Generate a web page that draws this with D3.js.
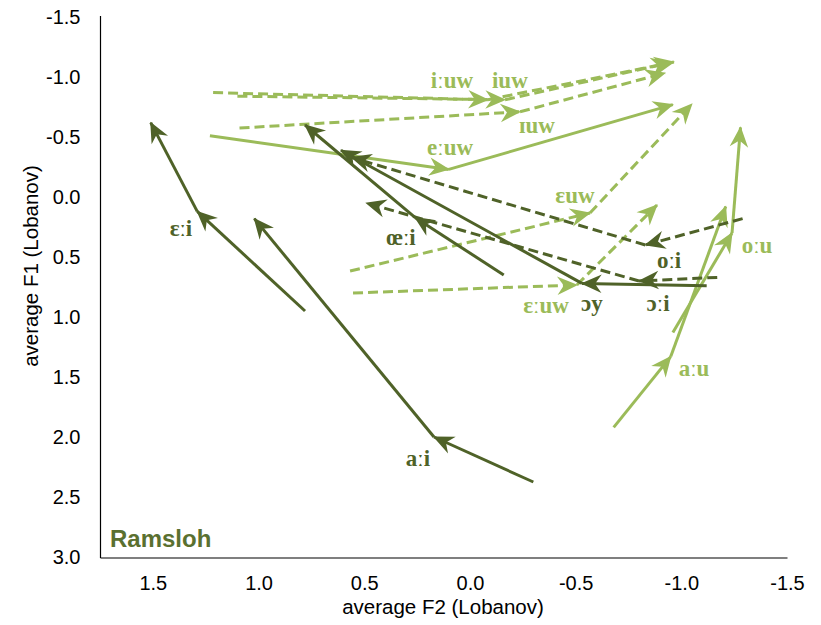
<!DOCTYPE html>
<html>
<head>
<meta charset="utf-8">
<script src="https://cdn.jsdelivr.net/npm/d3@7"></script>
<style>
  body { margin: 0; background: #fff; }
  svg { display: block; }
</style>
</head>
<body>
<div id="chart"></div>
<script>
// trajectories: onset -> midpoint -> offset, as [F2, F1]
const darkSolid = [
  {label: "aːi", pts: [[-0.30, 2.375], [0.17, 2.00], [1.02, 0.18]]},
  {label: "ɛːi", pts: [[0.78, 0.95], [1.29, 0.12], [1.51, -0.62]]},
  {label: "œːi", pts: [[-0.16, 0.65], [0.26, 0.17], [0.78, -0.60]]},
  {label: "ɔy",  pts: [[-1.12, 0.74], [-0.53, 0.72], [0.61, -0.39]]}
];
const darkDashed = [
  {label: "ɔːi", pts: [[-1.17, 0.67], [-0.80, 0.70], [0.49, 0.05]]},
  {label: "oːi", pts: [[-1.29, 0.18], [-0.83, 0.40], [0.56, -0.33]]}
];
const lightSolid = [
  {label: "eːuw", pts: [[1.23, -0.51], [0.10, -0.23], [-0.96, -0.77]]},
  {label: "aːu",  pts: [[-0.68, 1.92], [-0.95, 1.33], [-1.21, 0.08]]},
  {label: "oːu",  pts: [[-0.96, 1.13], [-1.24, 0.30], [-1.28, -0.58]]}
];
const lightDashed = [
  {label: "iːuw", pts: [[1.215, -0.87], [-0.085, -0.81], [-0.965, -1.125]]},
  {label: "iuw",  pts: [[1.10, -0.84], [-0.166, -0.81], [-0.95, -1.12]]},
  {label: "ɪuw",  pts: [[1.09, -0.575], [-0.237, -0.71], [-0.923, -1.033]]},
  {label: "ɛuw",  pts: [[0.567, 0.617], [-0.568, 0.133], [-1.05, -0.775]]},
  {label: "ɛːuw", pts: [[0.553, 0.80], [-0.506, 0.733], [-0.885, 0.067]]}
];
// label anchors [F2, F1]
const darkLabels = [
  ["aːi", 0.246, 2.175], ["ɛːi", 1.367, 0.258], ["œːi", 0.326, 0.333],
  ["ɔy", -0.577, 0.883], ["ɔːi", -0.89, 0.883], ["oːi", -0.942, 0.525]
];
const lightLabels = [
  ["iːuw", 0.085, -0.975], ["iuw", -0.189, -0.975], ["ɪuw", -0.317, -0.6],
  ["eːuw", 0.094, -0.417], ["ɛuw", -0.497, -0.017], ["ɛːuw", -0.36, 0.9],
  ["aːu", -1.06, 1.425], ["oːu", -1.358, 0.4]
];
const xTicks = [1.5, 1.0, 0.5, 0.0, -0.5, -1.0, -1.5];
const yTicks = [-1.5, -1.0, -0.5, 0.0, 0.5, 1.0, 1.5, 2.0, 2.5, 3.0];

const dark = "#4F6228", light = "#9BBB59";
let width = 821, height = 625;

let svg = d3.select("#chart").append("svg")
            .attr("width", width)
            .attr("height", height);

let xscale = d3.scaleLinear().domain([1.75, -1.5]).range([100, 787]);
let yscale = d3.scaleLinear().domain([-1.5, 3.0]).range([17, 557]);

let fmt = d => d3.format(".1f")(d).replace("\u2212", "-");

// stealth style arrowheads
let defs = svg.append("defs");
[["dark", dark], ["light", light]].forEach(([id, c]) => {
  defs.append("marker")
      .attr("id", "arrow-" + id)
      .attr("markerUnits", "userSpaceOnUse")
      .attr("markerWidth", 24).attr("markerHeight", 24)
      .attr("viewBox", "-20 -10 22 20")
      .attr("refX", 0).attr("refY", 0)
      .attr("orient", "auto")
    .append("path")
      .attr("d", "M1,0 L-18,-8.5 L-12,0 L-18,8.5 Z")
      .attr("fill", c);
});

let yaxis = svg.append("g")
               .attr("transform", "translate(100.5,0)")
               .call(d3.axisLeft(yscale).tickValues(yTicks).tickFormat(fmt)
                       .tickSize(0).tickSizeOuter(0).tickPadding(20));
let xaxis = svg.append("g")
               .attr("transform", "translate(0,557.5)")
               .call(d3.axisBottom(xscale).tickValues(xTicks).tickFormat(fmt)
                       .tickSize(0).tickSizeOuter(0).tickPadding(18));
[yaxis, xaxis].forEach(a => {
  a.select(".domain").attr("stroke", "#000").attr("stroke-width", 1.2);
  a.selectAll("text").attr("font-family", "Arial, 'Liberation Sans', sans-serif")
   .attr("font-size", 20).attr("fill", "#000");
});
yaxis.select(".domain").attr("d", "M0,16V558");

svg.append("text")
   .text("average F2 (Lobanov)")
   .attr("x", 443).attr("y", 614)
   .attr("text-anchor", "middle")
   .attr("font-family", "Arial, 'Liberation Sans', sans-serif")
   .attr("font-size", 20.5);

svg.append("text")
   .text("average F1 (Lobanov)")
   .attr("transform", "translate(38,266) rotate(-90)")
   .attr("text-anchor", "middle")
   .attr("font-family", "Arial, 'Liberation Sans', sans-serif")
   .attr("font-size", 20.5);

svg.append("text")
   .text("Ramsloh")
   .attr("x", 110).attr("y", 547)
   .attr("font-family", "Arial, 'Liberation Sans', sans-serif")
   .attr("font-weight", "bold")
   .attr("font-size", 24)
   .attr("fill", "#5A7030");

function drawGroup(series, color, markerId, dashed) {
  series.forEach(s => {
    for (let i = 0; i < s.pts.length - 1; i++) {
      let a = s.pts[i], b = s.pts[i + 1];
      svg.append("line")
         .attr("x1", xscale(a[0])).attr("y1", yscale(a[1]))
         .attr("x2", xscale(b[0])).attr("y2", yscale(b[1]))
         .attr("stroke", color)
         .attr("stroke-width", 3)
         .attr("stroke-dasharray", dashed ? "10,5" : null)
         .attr("marker-end", `url(#${markerId})`);
    }
  });
}

drawGroup(lightDashed, light, "arrow-light", true);
drawGroup(lightSolid, light, "arrow-light", false);
drawGroup(darkDashed, dark, "arrow-dark", true);
drawGroup(darkSolid, dark, "arrow-dark", false);

function drawLabels(labels, color) {
  svg.selectAll(null)
     .data(labels)
     .enter()
     .append("text")
     .text(d => d[0])
     .attr("x", d => xscale(d[1]))
     .attr("y", d => yscale(d[2]))
     .attr("dy", "0.35em")
     .attr("text-anchor", "middle")
     .attr("font-family", "'Liberation Serif', 'Times New Roman', 'DejaVu Serif', serif")
     .attr("font-weight", "bold")
     .attr("font-size", 23)
     .attr("fill", color);
}
drawLabels(lightLabels, light);
drawLabels(darkLabels, dark);
</script>
</body>
</html>
